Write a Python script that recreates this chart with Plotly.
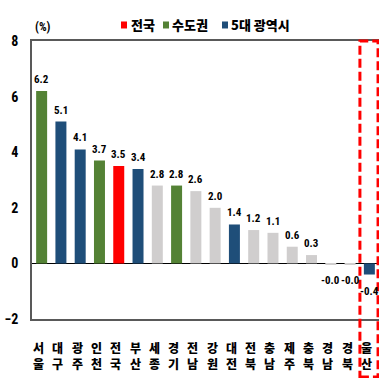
import plotly.graph_objects as go

# Regional change rates (%), sorted high to low
regions = ["서울", "대구", "광주", "인천", "전국", "부산", "세종", "경기", "전남",
           "강원", "대전", "전북", "충남", "제주", "충북", "경남", "경북", "울산"]
values = [6.2, 5.1, 4.1, 3.7, 3.5, 3.4, 2.8, 2.8, 2.6,
          2.0, 1.4, 1.2, 1.1, 0.6, 0.3, -0.03, -0.03, -0.4]
groups = ["수도권", "5대 광역시", "5대 광역시", "수도권", "전국", "5대 광역시", "기타", "수도권", "기타",
          "기타", "5대 광역시", "기타", "기타", "기타", "기타", "기타", "기타", "5대 광역시"]
group_colors = {"전국": "#FF0000", "수도권": "#548235", "5대 광역시": "#1F4E79", "기타": "#D0CECE"}
legend_groups = ["전국", "수도권", "5대 광역시"]
y_ticks = [-2, 0, 2, 4, 6, 8]
highlight = "울산"

NUM_FONT = "Liberation Sans Narrow, Roboto Condensed, Liberation Sans, Arial"
KR_FONT = "Noto Sans CJK KR, Noto Sans, sans-serif"

xs = list(range(len(regions)))
fig = go.Figure()
fig.add_trace(go.Bar(
    x=xs, y=values,
    marker=dict(color=[group_colors[g] for g in groups], line=dict(width=0)),
    showlegend=False, hoverinfo="skip",
))

# value labels above (or below) each bar
for x, v in zip(xs, values):
    fig.add_annotation(
        x=x, y=v, text=f"{v:.1f}", showarrow=False,
        yanchor="bottom" if v >= 0 else "top",
        yshift=3 if v >= 0 else -8,
        font=dict(family=NUM_FONT, size=11, color="#000000", weight=700),
    )

# category names, one syllable per line, under each bar
for x, r in zip(xs, regions):
    fig.add_annotation(
        x=x, xref="x", yref="paper", y=-0.131,
        text="<br>".join(r),
        showarrow=False, xshift=-3, yanchor="middle",
        font=dict(family=KR_FONT, size=12, color="#000000", weight=900),
    )

# legend: small colored squares + bold labels
legend_sq_x = [0.2565, 0.3775, 0.5476]
legend_tx_x = [0.280, 0.398, 0.567]
for sx, tx, g in zip(legend_sq_x, legend_tx_x, legend_groups):
    fig.add_shape(
        type="rect", xref="paper", yref="paper",
        xsizemode="pixel", ysizemode="pixel",
        xanchor=sx, yanchor=1.0576, x0=0, x1=6, y0=-3.5, y1=3.5,
        fillcolor=group_colors[g], line=dict(width=0),
    )
    fig.add_annotation(
        xref="paper", yref="paper", x=tx, y=1.0576, xanchor="left", yanchor="middle",
        text=g, showarrow=False,
        font=dict(family=KR_FONT, size=13, color="#000000", weight=900),
    )

# unit label
fig.add_annotation(
    xref="paper", yref="paper", x=0.004, y=1.052, xanchor="left", yanchor="middle",
    text="(%)", showarrow=False,
    font=dict(family=NUM_FONT, size=12, color="#000000", weight=700),
)

# dashed highlight box around one region
hi = regions.index(highlight)
fig.add_shape(
    type="rect", xref="x", yref="paper",
    x0=hi - 0.49, x1=hi + 0.45, y0=-0.209, y1=1.0,
    line=dict(color="#FF0000", width=3, dash="9px,4px"),
    fillcolor="rgba(0,0,0,0)", layer="above",
)

fig.update_layout(
    width=380, height=378,
    margin=dict(l=32, r=1, t=41, b=59),
    paper_bgcolor="white", plot_bgcolor="white",
    bargap=0.43,
    xaxis=dict(
        range=[-0.5, len(regions) - 0.5],
        showticklabels=False, automargin=False,
        showgrid=False, zeroline=False,
        showline=True, mirror=True, linecolor="#595959", linewidth=1.5,
        ticks="",
    ),
    yaxis=dict(
        range=[-2, 8], tickvals=y_ticks, automargin=False,
        tickfont=dict(family=NUM_FONT, size=14, color="#000000", weight=700),
        showgrid=False,
        zeroline=True, zerolinecolor="#000000", zerolinewidth=1,
        showline=True, linecolor="#595959", linewidth=1.5,
        ticks="", ticklabelstandoff=9,
    ),
)

fig.write_html("out.html")
